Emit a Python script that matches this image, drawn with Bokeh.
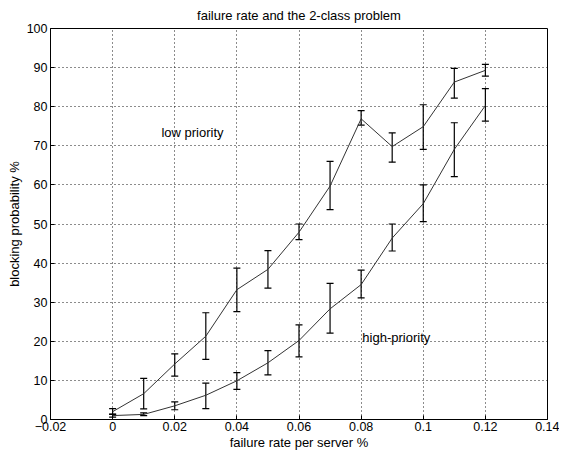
from bokeh.plotting import figure
from bokeh.models import Range1d, FixedTicker, ColumnDataSource, Whisker, TeeHead, Label
from bokeh.embed import file_html
from bokeh.resources import INLINE

# ---- data ----
failure_rate = [0.0, 0.01, 0.02, 0.03, 0.04, 0.05, 0.06, 0.07, 0.08, 0.09, 0.10, 0.11, 0.12]

low_priority = [2.0, 6.6, 14.2, 21.3, 33.2, 38.4, 47.9, 59.7, 76.9, 69.8, 74.9, 86.3, 89.3]
low_lower = [1.3, 2.7, 11.1, 15.4, 27.6, 33.6, 46.0, 53.7, 75.3, 65.8, 69.1, 82.2, 87.8]
low_upper = [2.8, 10.5, 16.8, 27.3, 38.7, 43.2, 50.0, 66.0, 79.0, 73.3, 80.5, 89.8, 90.8]

high_priority = [1.0, 1.3, 3.5, 6.2, 9.9, 14.5, 20.2, 28.3, 34.5, 46.4, 55.2, 69.1, 80.3]
high_lower = [0.6, 1.0, 2.5, 2.8, 7.7, 11.4, 16.0, 22.1, 31.1, 43.1, 50.6, 62.1, 76.3]
high_upper = [1.4, 1.7, 4.5, 9.3, 12.0, 17.6, 24.2, 34.8, 38.2, 50.0, 60.0, 75.9, 84.6]

x_ticks = [-0.02, 0.0, 0.02, 0.04, 0.06, 0.08, 0.10, 0.12, 0.14]
x_tick_labels = ["\u22120.02", "0", "0.02", "0.04", "0.06", "0.08", "0.1", "0.12", "0.14"]
y_ticks = [0, 10, 20, 30, 40, 50, 60, 70, 80, 90, 100]

title_text = "failure rate and the 2-class problem"
x_label = "failure rate per server %"
y_label = "blocking probability %"
low_label = "low priority"
high_label = "high-priority"

FONT = "Liberation Sans"

p = figure(width=559, height=452,
           x_range=Range1d(-0.02, 0.14), y_range=Range1d(0, 100),
           output_backend="svg", toolbar_location=None,
           min_border_left=50, min_border_right=12,
           min_border_top=28, min_border_bottom=32)

p.title.text = title_text
p.title.align = "center"
p.title.text_font = FONT
p.title.text_font_size = "13px"
p.title.text_font_style = "normal"
p.title.text_color = "black"
p.title.standoff = 11

p.xaxis.ticker = FixedTicker(ticks=x_ticks)
p.xaxis.major_label_overrides = {t: s for t, s in zip(x_ticks, x_tick_labels)}
p.yaxis.ticker = FixedTicker(ticks=y_ticks)
p.xaxis.axis_label = x_label
p.yaxis.axis_label = y_label

for ax in (p.xaxis, p.yaxis):
    ax.axis_label_text_font = FONT
    ax.axis_label_text_font_size = "13px"
    ax.axis_label_text_font_style = "normal"
    ax.axis_label_text_color = "black"
    ax.major_label_text_font = FONT
    ax.major_label_text_font_size = "12.5px"
    ax.major_label_text_color = "black"
    ax.axis_line_color = "black"
    ax.major_tick_line_color = "black"
    ax.major_tick_in = 4
    ax.major_tick_out = 0
    ax.minor_tick_line_color = None
    ax.major_label_standoff = 3
    ax.axis_label_standoff = 2

p.xaxis.major_label_standoff = 2
p.xaxis.axis_label_standoff = 1

p.outline_line_color = "black"
p.outline_line_alpha = 1.0
p.background_fill_color = "white"
p.border_fill_color = "white"

for g in (p.xgrid, p.ygrid):
    g.grid_line_color = "black"
    g.grid_line_dash = "1 3"
    g.grid_line_width = 1
    g.grid_line_alpha = 0.9

src_low = ColumnDataSource(dict(x=failure_rate, y=low_priority, lower=low_lower, upper=low_upper))
src_high = ColumnDataSource(dict(x=failure_rate, y=high_priority, lower=high_lower, upper=high_upper))

for src in (src_low, src_high):
    p.line("x", "y", source=src, line_color="#333333", line_width=1)
    w = Whisker(source=src, base="x", upper="upper", lower="lower",
                line_color="black", line_width=1.2,
                upper_head=TeeHead(size=7, line_color="black", line_width=1.2),
                lower_head=TeeHead(size=7, line_color="black", line_width=1.2))
    p.add_layout(w)

p.add_layout(Label(x=0.0157, y=73.5, text=low_label, text_font=FONT, text_font_size="13px",
                   text_baseline="middle", text_align="left", text_color="black"))
p.add_layout(Label(x=0.0804, y=21.0, text=high_label, text_font=FONT, text_font_size="13px",
                   text_baseline="middle", text_align="left", text_color="black"))

open("out.html", "w").write(file_html(p, INLINE))
